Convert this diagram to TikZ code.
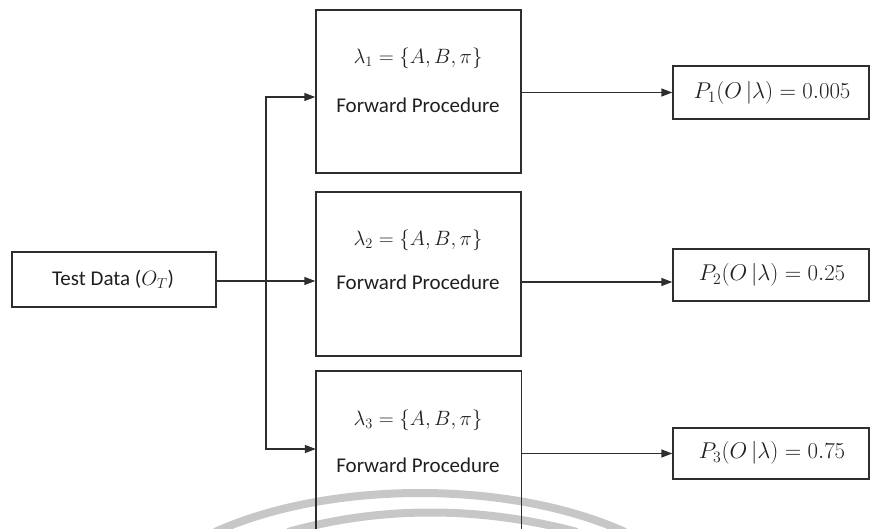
\documentclass[tikz,border=0pt]{standalone}
\usepackage{fontspec}
\setmainfont{Carlito}
\usetikzlibrary{arrows.meta}
\begin{document}
\begin{tikzpicture}[x=1pt,y=-1pt,
  line/.style={draw=black!82, line width=1.4pt},
  arr/.style={line, -{Triangle[length=11pt,width=8pt]}},
  box/.style={draw=black!82, line width=1.4pt, inner sep=0pt},
  openbox/.style={draw=none, inner sep=0pt},
  lbl/.style={font=\fontsize{21}{25}\selectfont, text=black!88, inner sep=0pt},
  res/.style={lbl, scale=1.1},
  wm/.style={draw=black!22, line width=8pt}
]
\useasboundingbox (0,0) rectangle (873,529);
\clip (0,0) rectangle (873,529);

% faint background arcs
\draw[wm] (215,532) .. controls (330,480) and (510,480) .. (625,532);
\draw[wm] (288,532) .. controls (380,506) and (480,506) .. (577,532);

% input
\node[box, minimum width=204pt, minimum height=55pt] (td) at (114,279.5) {};
\node[lbl] (tdl) at (113,279) {Test Data ($O_T$)};

% model boxes
\node[box, minimum width=205pt, minimum height=163pt] (b1) at (418.5,91.5) {};
\node[box, minimum width=205pt, minimum height=164pt] (b2) at (418.5,274) {};
\node[openbox, minimum width=205pt, minimum height=175pt] (b3) at (418.5,458.5) {};
\draw[line] (b3.south west) |- (b3.north east) -- (b3.south east);

\node[lbl] (l1) at (418,58) {$\lambda_1=\{A,B,\pi\}$};
\node[lbl] (f1) at (418,105) {Forward Procedure};
\node[lbl] (l2) at (418,240) {$\lambda_2=\{A,B,\pi\}$};
\node[lbl] (f2) at (418,282) {Forward Procedure};
\node[lbl] (l3) at (418,420) {$\lambda_3=\{A,B,\pi\}$};
\node[lbl] (f3) at (418,465) {Forward Procedure};

% outputs
\node[box, minimum width=196pt, minimum height=53pt] (o1) at (771,92.5) {};
\node[box, minimum width=196pt, minimum height=52pt] (o2) at (771,275) {};
\node[box, minimum width=196pt, minimum height=51pt] (o3) at (771,453.5) {};
\node[res] (p1) at (772,93) {$P_1(O\,|\lambda)=0.005$};
\node[res] (p2) at (772,275) {$P_2(O\,|\lambda)=0.25$};
\node[res] (p3) at (772,453) {$P_3(O\,|\lambda)=0.75$};

% fan-out from the test data
\coordinate (j) at (266,281);
\draw[line] (td.east |- j) -- (j);
\draw[arr] (j) |- ([yshift=-5.5pt]b1.west);
\draw[arr] (j) -- (b2.west |- j);
\draw[arr] (j) |- ([yshift=9.5pt]b3.west);

% model outputs
\coordinate (a2) at (0,282);
\draw[arr] (b1.east |- o1.west) -- (o1.west);
\draw[arr] (b2.east |- a2) -- (o2.west |- a2);
\draw[arr] (b3.east |- o3.west) -- (o3.west);
\end{tikzpicture}
\end{document}
